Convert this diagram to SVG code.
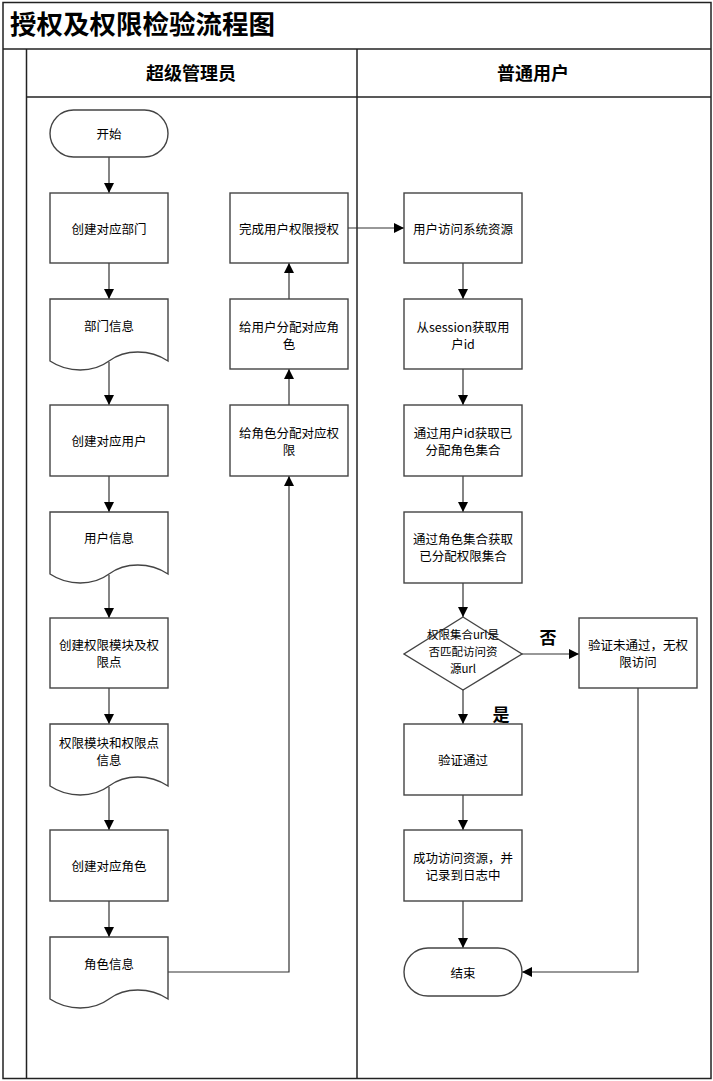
<svg xmlns="http://www.w3.org/2000/svg" width="713" height="1081" viewBox="0 0 713 1081">
<defs>
<marker id="arr" viewBox="0 0 10 10" refX="10" refY="5" markerWidth="10" markerHeight="10" markerUnits="userSpaceOnUse" orient="auto">
<path d="M0,0 L10,5 L0,10 z" fill="#000"/>
</marker>
</defs>
<style>
.frame{fill:none;stroke:#222;stroke-width:1.5}
.box{fill:#fff;stroke:#444;stroke-width:1.4}
.t{font-family:"Noto Sans CJK SC","Liberation Sans",sans-serif;font-size:12.5px;fill:#000;text-anchor:middle;dominant-baseline:central}
.ts{font-family:"Noto Sans CJK SC","Liberation Sans",sans-serif;font-size:11.5px;fill:#000;text-anchor:middle;dominant-baseline:central}
.title{font-family:"Noto Sans CJK SC","Liberation Sans",sans-serif;font-size:26.5px;font-weight:bold;fill:#000}
.hd{font-family:"Noto Sans CJK SC","Liberation Sans",sans-serif;font-size:18px;font-weight:bold;fill:#000;text-anchor:middle;dominant-baseline:central}
.lbl{font-family:"Noto Sans CJK SC","Liberation Sans",sans-serif;font-size:17px;font-weight:bold;fill:#000;text-anchor:middle;dominant-baseline:central}
.c{fill:none;stroke:#333;stroke-width:1.2;marker-end:url(#arr)}
</style>
<rect width="713" height="1081" fill="#fff"/>
<g id="pool">
<rect class="frame" x="3" y="2.5" width="708" height="1076"/>
<line class="frame" x1="3" y1="49" x2="711" y2="49"/>
<line class="frame" x1="26.5" y1="49" x2="26.5" y2="1078"/>
<line class="frame" x1="357" y1="49" x2="357" y2="1078"/>
<line class="frame" x1="26.5" y1="97" x2="711" y2="97"/>
<text class="title" x="10" y="34">授权及权限检验流程图</text>
<text class="hd" x="191" y="72">超级管理员</text>
<text class="hd" x="533" y="72">普通用户</text>
</g>
<g id="connectors">
<path class="c" d="M109,157 V193"/>
<path class="c" d="M109,263 V299"/>
<path class="c" d="M109,362 V405"/>
<path class="c" d="M109,476 V512"/>
<path class="c" d="M109,575 V618"/>
<path class="c" d="M109,688 V724"/>
<path class="c" d="M109,787 V830"/>
<path class="c" d="M109,901 V937"/>
<path class="c" d="M168,972 H289 V476"/>
<path class="c" d="M289,405 V369"/>
<path class="c" d="M289,299 V263"/>
<path class="c" d="M348,228 H404"/>
<path class="c" d="M463,263 V299"/>
<path class="c" d="M463,369 V405"/>
<path class="c" d="M463,476 V512"/>
<path class="c" d="M463,583 V617"/>
<path class="c" d="M522,654 H579"/>
<path class="c" d="M463,690 V724"/>
<path class="c" d="M463,795 V830"/>
<path class="c" d="M463,901 V948"/>
<path class="c" d="M638,688 V972 H522"/>
<text class="lbl" x="548" y="636">否</text>
<text class="lbl" x="501" y="713">是</text>
</g>
<g id="n_start"><rect class="box" x="50" y="110" width="118" height="47" rx="23.5"/><text class="t" x="109" y="133">开始</text></g>
<g id="n_dept"><rect class="box" x="50" y="193" width="118" height="70"/><text class="t" x="109" y="228">创建对应部门</text></g>
<g id="n_deptinfo"><path class="box" d="M50,299 H168 V361 C150,349 125,349 109,361 C93,373 68,373 50,361 Z"/><text class="t" x="109" y="325">部门信息</text></g>
<g id="n_user"><rect class="box" x="50" y="405" width="118" height="71"/><text class="t" x="109" y="440">创建对应用户</text></g>
<g id="n_userinfo"><path class="box" d="M50,512 H168 V574 C150,562 125,562 109,574 C93,586 68,586 50,574 Z"/><text class="t" x="109" y="537">用户信息</text></g>
<g id="n_perm"><rect class="box" x="50" y="618" width="118" height="70"/><text class="t" x="109" y="644">创建权限模块及权</text><text class="t" x="109" y="661">限点</text></g>
<g id="n_perminfo"><path class="box" d="M50,724 H168 V786 C150,774 125,774 109,786 C93,798 68,798 50,786 Z"/><text class="t" x="109" y="742">权限模块和权限点</text><text class="t" x="109" y="759">信息</text></g>
<g id="n_role"><rect class="box" x="50" y="830" width="118" height="71"/><text class="t" x="109" y="865">创建对应角色</text></g>
<g id="n_roleinfo"><path class="box" d="M50,937 H168 V999 C150,987 125,987 109,999 C93,1011 68,1011 50,999 Z"/><text class="t" x="109" y="963">角色信息</text></g>
<g id="n_done"><rect class="box" x="230" y="193" width="118" height="70"/><text class="t" x="289" y="228">完成用户权限授权</text></g>
<g id="n_assignrole"><rect class="box" x="230" y="299" width="118" height="70"/><text class="t" x="289" y="326">给用户分配对应角</text><text class="t" x="289" y="343">色</text></g>
<g id="n_assignperm"><rect class="box" x="230" y="405" width="118" height="71"/><text class="t" x="289" y="432">给角色分配对应权</text><text class="t" x="289" y="449">限</text></g>
<g id="n_access"><rect class="box" x="404" y="193" width="118" height="70"/><text class="t" x="463" y="228">用户访问系统资源</text></g>
<g id="n_session"><rect class="box" x="404" y="299" width="118" height="70"/><text class="t" x="463" y="326">从session获取用</text><text class="t" x="463" y="343">户id</text></g>
<g id="n_roles"><rect class="box" x="404" y="405" width="118" height="71"/><text class="t" x="463" y="432">通过用户id获取已</text><text class="t" x="463" y="449">分配角色集合</text></g>
<g id="n_perms"><rect class="box" x="404" y="512" width="118" height="71"/><text class="t" x="463" y="538">通过角色集合获取</text><text class="t" x="463" y="555">已分配权限集合</text></g>
<g id="n_check"><path class="box" d="M463,617 L522,654 L463,690 L404,654 Z"/><text class="ts" x="463" y="634">权限集合url是</text><text class="ts" x="463" y="651">否匹配访问资</text><text class="ts" x="463" y="668">源url</text></g>
<g id="n_deny"><rect class="box" x="579" y="618" width="118" height="70"/><text class="t" x="638" y="644">验证未通过，无权</text><text class="t" x="638" y="661">限访问</text></g>
<g id="n_pass"><rect class="box" x="404" y="724" width="118" height="71"/><text class="t" x="463" y="759">验证通过</text></g>
<g id="n_log"><rect class="box" x="404" y="830" width="118" height="71"/><text class="t" x="463" y="857">成功访问资源，并</text><text class="t" x="463" y="874">记录到日志中</text></g>
<g id="n_end"><rect class="box" x="404" y="948" width="118" height="48" rx="24"/><text class="t" x="463" y="972">结束</text></g>
</svg>
